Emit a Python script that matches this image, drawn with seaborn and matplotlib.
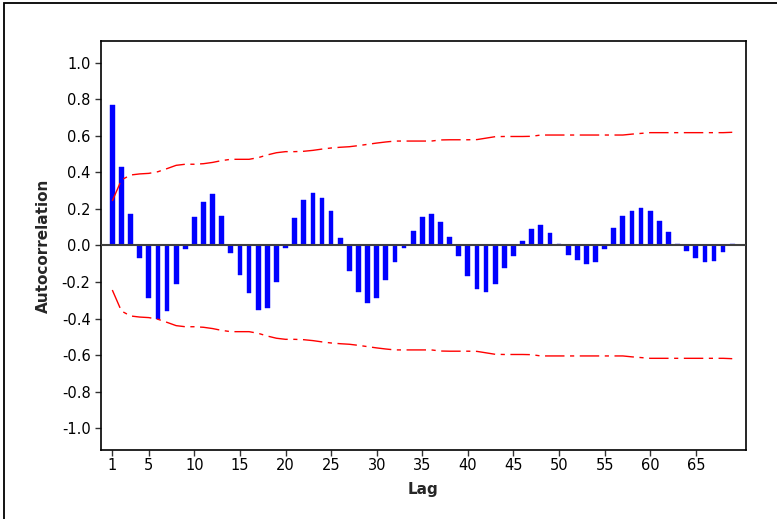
import numpy as np
import pandas as pd
import seaborn as sns
import matplotlib.pyplot as plt
from matplotlib.patches import Rectangle


# autocorrelation per lag
lags = list(range(1, 70))
acf = [0.77, 0.43, 0.17, -0.07, -0.29, -0.40, -0.36, -0.21, -0.02, 0.155,
       0.24, 0.28, 0.16, -0.04, -0.16, -0.26, -0.355, -0.34, -0.20, -0.015,
       0.15, 0.25, 0.29, 0.26, 0.19, 0.04, -0.14, -0.255, -0.315, -0.285,
       -0.19, -0.09, -0.015, 0.08, 0.155, 0.17, 0.13, 0.045, -0.06, -0.165,
       -0.24, -0.255, -0.21, -0.125, -0.06, 0.025, 0.09, 0.11, 0.07, 0.01,
       -0.05, -0.08, -0.10, -0.09, -0.02, 0.095, 0.16, 0.19, 0.205, 0.19,
       0.135, 0.075, 0.01, -0.03, -0.07, -0.09, -0.085, -0.035, 0.01]

# upper significance limit (lower one is the mirror image)
conf_upper = [0.244, 0.359, 0.386, 0.392, 0.395, 0.404, 0.421, 0.439, 0.445, 0.445,
              0.448, 0.455, 0.465, 0.472, 0.472, 0.472, 0.481, 0.496, 0.508, 0.514,
              0.514, 0.516, 0.521, 0.528, 0.534, 0.538, 0.541, 0.547, 0.554, 0.561,
              0.567, 0.572, 0.572, 0.572, 0.572, 0.572, 0.578, 0.579, 0.579, 0.579,
              0.580, 0.588, 0.596, 0.597, 0.597, 0.597, 0.598, 0.605, 0.605, 0.605,
              0.605, 0.605, 0.605, 0.605, 0.605, 0.605, 0.605, 0.610, 0.614, 0.618,
              0.618, 0.618, 0.618, 0.618, 0.618, 0.618, 0.618, 0.618, 0.620]
conf_lower = [-v for v in conf_upper]

x_ticks = [1, 5, 10, 15, 20, 25, 30, 35, 40, 45, 50, 55, 60, 65]
y_ticks = [1.0, 0.8, 0.6, 0.4, 0.2, 0.0, -0.2, -0.4, -0.6, -0.8, -1.0]

df = pd.DataFrame({'Lag': lags, 'ACF': acf, 'Upper': conf_upper, 'Lower': conf_lower})


# plotting
sns.set_style("white")
plt.rcParams['font.family'] = ['DejaVu Sans']

fig = plt.figure(figsize=(7.77, 5.19), dpi=100)
ax = fig.add_axes([0.130, 0.133, 0.830, 0.788])

sns.barplot(data=df, x='Lag', y='ACF', native_scale=True, width=0.52,
            color='#0000FF', saturation=1, edgecolor='#0000FF', linewidth=0.3,
            ax=ax, zorder=2)
ax.axhline(0, color='#404040', lw=1.5, zorder=3)

dash = (0, (14, 4, 3, 4))
sns.lineplot(data=df, x='Lag', y='Upper', color='red', lw=1.0, linestyle=dash, ax=ax, zorder=4)
sns.lineplot(data=df, x='Lag', y='Lower', color='red', lw=1.0, linestyle=dash, ax=ax, zorder=4)

ax.set_xlim(-0.24, 70.5)
ax.set_ylim(-1.12, 1.12)
ax.set_xticks(x_ticks)
ax.set_xticklabels([str(t) for t in x_ticks])
ax.set_yticks(y_ticks)
ax.set_yticklabels([f'{t:.1f}' for t in y_ticks])

ax.tick_params(axis='both', which='both', direction='out', length=4, width=1,
               color='#333333', labelcolor='black', labelsize=10.5,
               left=True, bottom=True)
ax.tick_params(axis='x', pad=2)
for s in ax.spines.values():
    s.set_color('black')
    s.set_linewidth(1.2)

ax.set_xlabel('Lag', fontsize=11, fontweight='bold', labelpad=6)
ax.set_ylabel('Autocorrelation', fontsize=11, fontweight='bold', labelpad=8)

# outer frame (cut off at right and bottom)
fig.patches.append(Rectangle((3.5 / 777, -0.1), 2.0, 1.1 - 3.5 / 519,
                             transform=fig.transFigure, fill=False,
                             edgecolor='black', lw=1.3))

fig.savefig("out.png", dpi=100)
